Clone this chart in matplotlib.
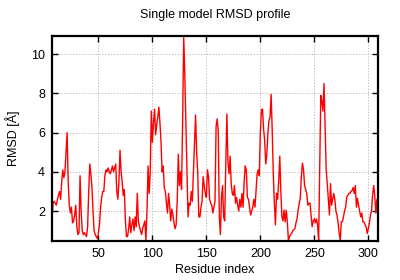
#!/usr/bin/env python3

import matplotlib
matplotlib.use("Agg")
import matplotlib.pyplot as plt
import numpy as np

first_residue = 7

# per-residue RMSD, starting at residue 7
rmsd = [
    1.6, 2.4, 2.5, 2.4, 2.3, 2.6, 2.8, 3.0, 2.6, 3.5,   # 7-16
    4.1, 3.7, 4.0, 5.0, 6.0, 3.5, 2.3, 1.9, 2.2, 1.4,   # 17-26
    1.5, 1.8, 2.3, 1.2, 0.8, 0.9, 3.8, 2.0, 1.0, 0.8,   # 27-36
    0.9, 0.8, 0.7, 1.2, 3.0, 4.4, 3.9, 3.2, 2.0, 1.0,   # 37-46
    0.8, 0.7, 0.6, 0.9, 1.3, 2.2, 2.7, 3.0, 3.0, 3.8,   # 47-56
    4.1, 4.0, 4.2, 4.0, 3.9, 4.1, 4.3, 4.0, 4.2, 4.4,   # 57-66
    3.0, 2.6, 3.5, 5.1, 4.0, 3.5, 2.8, 3.1, 1.5, 0.7,   # 67-76
    0.7, 1.1, 1.7, 0.9, 1.3, 1.6, 1.0, 1.7, 1.2, 2.9,   # 77-86
    1.5, 1.2, 1.0, 0.8, 1.1, 1.3, 1.5, 0.5, 2.0, 4.3,   # 87-96
    2.9, 4.0, 7.1, 5.5, 6.5, 7.2, 5.9, 6.4, 6.8, 7.3,   # 97-106
    6.5, 5.5, 4.0, 4.3, 3.2, 3.0, 2.4, 1.9, 2.9, 2.3,   # 107-116
    1.5, 2.1, 1.8, 1.4, 1.1, 1.3, 2.5, 4.9, 3.3, 4.0,   # 117-126
    3.1, 6.5, 10.9, 9.0, 6.5, 4.0, 1.7, 2.4, 2.3, 3.0,  # 127-136
    2.5, 4.0, 5.5, 6.9, 5.0, 4.0, 1.7, 1.7, 2.2, 2.5,   # 137-146
    3.75, 3.3, 2.9, 2.7, 4.1, 3.75, 2.6, 2.4, 2.3, 1.9,  # 147-156
    2.2, 2.5, 6.3, 6.7, 6.1, 1.7, 0.8, 2.7, 3.3, 1.7,   # 157-166
    1.5, 4.4, 6.95, 4.5, 3.9, 4.8, 3.4, 2.9, 2.8, 3.3,  # 167-176
    2.4, 2.7, 2.3, 2.0, 2.6, 2.2, 2.9, 2.2, 3.5, 4.3,   # 177-186
    4.1, 2.7, 2.6, 2.2, 1.8, 2.0, 2.2, 2.6, 2.2, 3.0,   # 187-196
    3.9, 4.1, 3.8, 6.0, 7.15, 7.2, 6.2, 5.6, 4.4, 4.85,  # 197-206
    6.0, 6.6, 6.8, 7.95, 6.1, 3.9, 2.4, 1.3, 2.9, 2.6,  # 207-216
    3.5, 4.8, 3.0, 1.7, 1.5, 2.05, 1.45, 2.05, 1.45, 0.5,  # 217-226
    0.7, 0.8, 0.86, 1.0, 1.05, 1.1, 1.4, 1.6, 2.05, 2.4,   # 227-236
    2.65, 3.75, 4.45, 4.1, 3.3, 3.1, 2.9, 2.3, 2.4, 2.4,   # 237-246
    1.8, 1.2, 1.5, 1.6, 1.4, 1.6, 1.3, 0.5, 4.4, 7.9,   # 247-256
    7.6, 7.1, 8.5, 6.3, 4.1, 3.4, 2.6, 1.8, 3.4, 2.3,   # 257-266
    2.6, 2.9, 2.6, 2.0, 1.8, 1.4, 0.9, 0.5, 1.45, 1.45,  # 267-276
    1.7, 2.0, 2.2, 2.7, 2.8, 2.9, 2.9, 3.0, 3.05, 3.2,  # 277-286
    2.9, 3.3, 2.2, 2.65, 2.3, 2.0, 1.7, 1.9, 1.45, 1.45,  # 287-296
    1.3, 1.2, 0.86, 1.1, 1.4, 1.8, 2.0, 2.8, 3.3, 2.8,  # 297-306
    1.9, 2.6, 2.4,                                      # 307-309
]
residues = np.arange(first_residue, first_residue + len(rmsd))

xticks = [50, 100, 150, 200, 250, 300]
yticks = [2, 4, 6, 8, 10]

plt.rcParams['font.family'] = ['Liberation Sans', 'DejaVu Sans']
plt.rcParams['font.size'] = 9

fig = plt.figure(figsize=(4, 2.8), dpi=100)
ax = fig.add_axes([0.13, 0.139, 0.815, 0.732])

ax.plot(residues, rmsd, color="#ff0000", lw=1.0)

ax.set_xlim(residues[0], residues[-1])
ax.set_ylim(min(rmsd) - 0.03, max(rmsd) + 0.02)
ax.set_xticks(xticks)
ax.set_yticks(yticks)
ax.grid(True, color="#b0b0b0", ls=(0, (1.5, 2)), lw=0.6)
ax.set_axisbelow(True)

ax.tick_params(direction="in", top=True, right=True, length=4, width=1,
               labelsize=9, colors="black", pad=5)
for s in ax.spines.values():
    s.set_linewidth(1.6)

ax.set_title("Single model RMSD profile", fontsize=9, pad=13)
ax.set_xlabel("Residue index", fontsize=9, labelpad=3)
ax.set_ylabel("RMSD [Å]", fontsize=9, labelpad=8)

fig.savefig("out.png", dpi=100)
